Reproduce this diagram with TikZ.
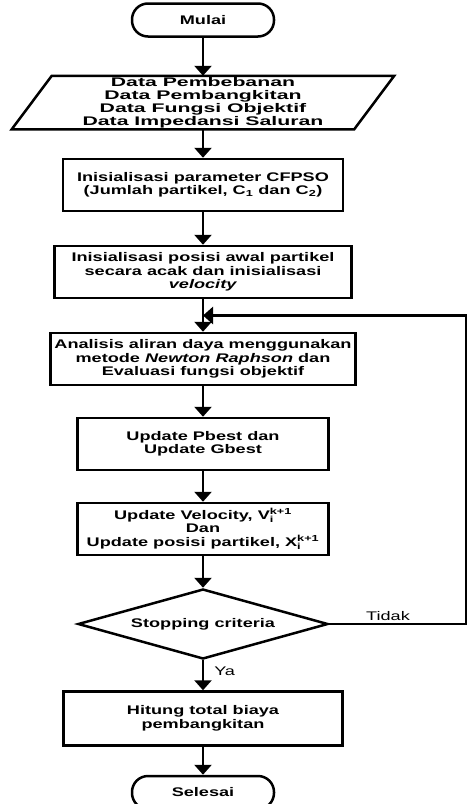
\documentclass[tikz,border=0pt]{standalone}
\usepackage{fontspec}
\setmainfont{Liberation Sans}
\newfontfamily\flowfont[FakeStretch=1.45]{Liberation Sans}
\newfontfamily\datafont[FakeStretch=1.7]{Liberation Sans}
\usetikzlibrary{arrows.meta,positioning,shapes.geometric}

\begin{document}
\begin{tikzpicture}[
            x=1pt,y=1pt,
            every node/.style={font=\flowfont\bfseries\fontsize{12.5}{13.5}\selectfont},
            terminal/.style={draw,rectangle,rounded corners=16pt,minimum width=142pt,minimum height=33pt,line width=2.5pt},
            proc/.style={draw,rectangle,align=center,minimum height=52pt,inner sep=2pt,line width=2.5pt},
            inputbox/.style={rectangle,align=center,minimum width=340pt,minimum height=51pt,inner sep=0pt,line width=2.5pt,font=\datafont\bfseries\fontsize{12.5}{13}\selectfont},
            decision/.style={draw,diamond,aspect=3.6,minimum width=250pt,minimum height=70pt,inner sep=0pt,line width=2.5pt},
            lab/.style={font=\flowfont\fontsize{12.5}{13.5}\selectfont,inner sep=2pt},
            flow/.style={draw,line width=2.5pt,-{Triangle[width=17pt,length=10pt]}},
            node distance=30.5pt
          ]
          \useasboundingbox (0,0) rectangle (468,-804);

          %flowchart
          \node[terminal] (mulai) at (203,-20) {Mulai};
          \node[inputbox,below=38pt of mulai] (data) {Data Pembebanan\\Data Pembangkitan\\Data Fungsi Objektif\\Data Impedansi Saluran};
          \draw[line width=2.5pt] ([xshift=-20pt]data.south west) -- ([xshift=-20pt]data.south east)
            -- ([xshift=20pt]data.north east) -- ([xshift=20pt]data.north west) -- cycle;
          \node[proc,below=28.5pt of data,minimum width=280pt] (init) {Inisialisasi parameter CFPSO\\(Jumlah partikel, C\textsubscript{1} dan C\textsubscript{2})};
          \node[proc,below=32.5pt of init,minimum width=297pt] (posisi) {Inisialisasi posisi awal partikel\\secara acak dan inisialisasi\\\textit{velocity}};
          \node[proc,below=32.5pt of posisi,minimum width=305pt] (aliran) {Analisis aliran daya menggunakan\\metode \textit{Newton Raphson} dan\\Evaluasi fungsi objektif};
          \node[proc,below=of aliran,minimum width=251pt] (best) {Update Pbest dan\\Update Gbest};
          \node[proc,below=of best,minimum width=251pt] (update) {Update Velocity, V\rlap{\raisebox{-1.5pt}{\textsubscript{i}}}\textsuperscript{k+1}\\Dan\\Update posisi partikel, X\rlap{\raisebox{-1.5pt}{\textsubscript{i}}}\textsuperscript{k+1}};
          \node[decision,below=31.5pt of update] (stop) {Stopping criteria};
          \node[proc,below=30pt of stop,minimum width=279pt,minimum height=54pt] (hitung) {Hitung total biaya\\pembangkitan};
          \node[terminal,below=28pt of hitung] (selesai) {Selesai};

          %loop points
          \path (posisi.south) -- (aliran.north) coordinate[pos=0.5] (join);
          \coordinate (loopcorner) at (466,0);

          %arrows
          \draw[flow] (mulai) -- (data);
          \draw[flow] (data) -- (init);
          \draw[flow] (init) -- (posisi);
          \draw[flow] (posisi) -- (aliran);
          \draw[flow] (aliran) -- (best);
          \draw[flow] (best) -- (update);
          \draw[flow] (update) -- (stop);
          \draw[flow] (stop) -- node[lab,right=8pt,pos=0.37] {Ya} (hitung);
          \draw[flow] (hitung) -- (selesai);
          \draw[flow] (stop.east) -- node[lab,above,pos=0.43] {Tidak} (stop.east -| loopcorner) |- (join);
\end{tikzpicture}
\end{document}
